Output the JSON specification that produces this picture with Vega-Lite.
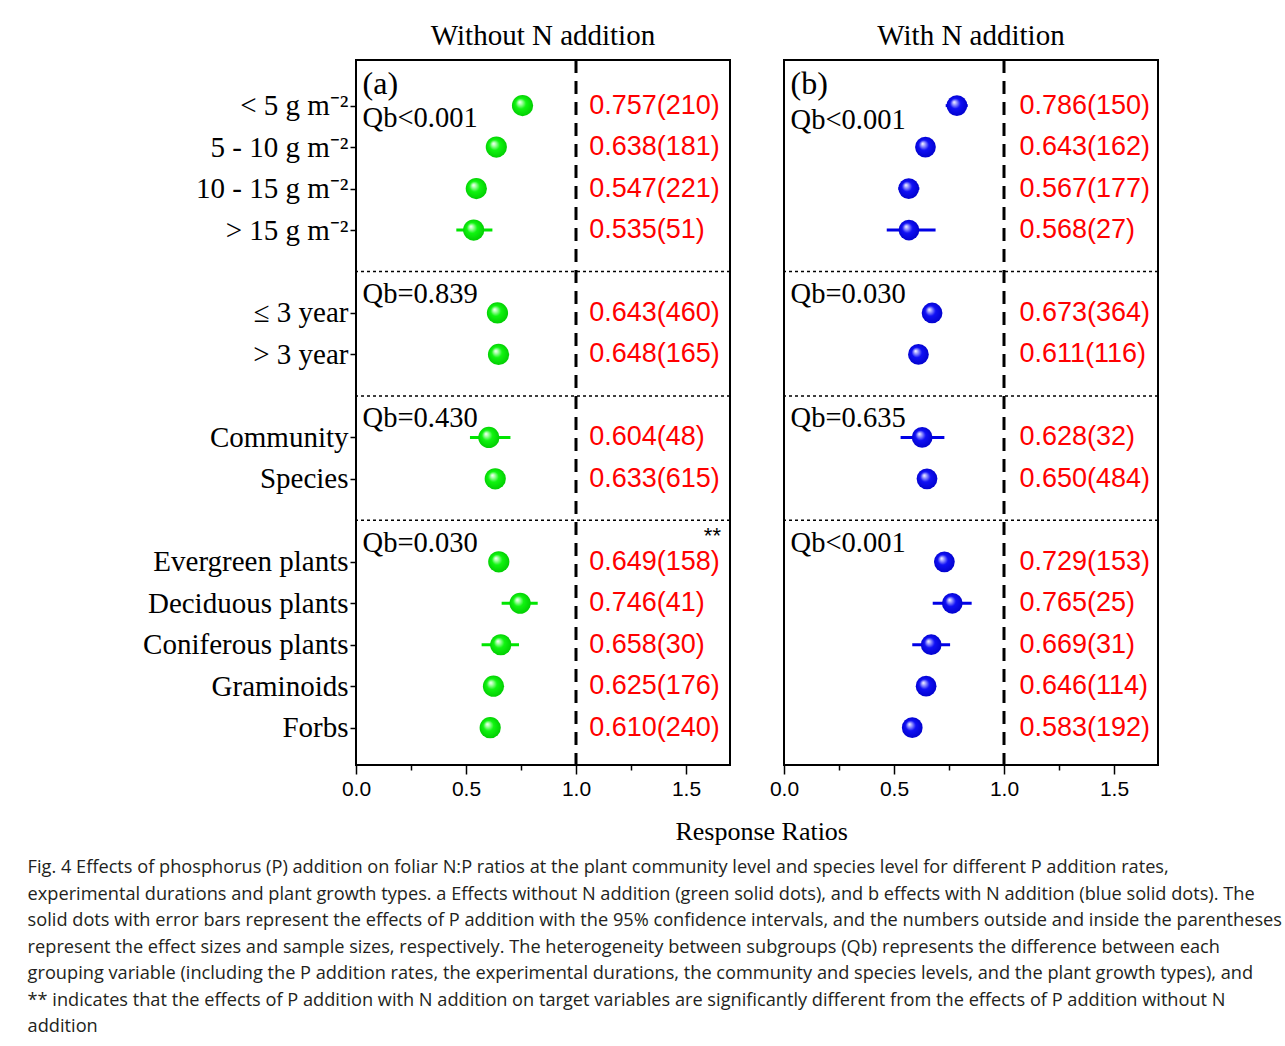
{
  "$schema": "https://vega.github.io/schema/vega-lite/v6.json",
  "padding": {"left": 27, "top": 20, "right": 5, "bottom": 5},
  "background": "white",
  "config": {
    "view": {"stroke": "black", "strokeWidth": 2},
    "axis": {"grid": false, "domain": false, "tickColor": "black", "labelColor": "black"}
  },
  "datasets": {
    "rows": [
      {"panel": "a", "grp": 1, "cat": "< 5 g m⁻²", "rr": 0.757, "lo": 0.715, "hi": 0.8, "label": "0.757(210)", "qb": "Qb<0.001"},
      {"panel": "a", "grp": 1, "cat": "5 - 10 g m⁻²", "rr": 0.638, "lo": 0.6, "hi": 0.675, "label": "0.638(181)"},
      {"panel": "a", "grp": 1, "cat": "10 - 15 g m⁻²", "rr": 0.547, "lo": 0.51, "hi": 0.585, "label": "0.547(221)"},
      {"panel": "a", "grp": 1, "cat": "> 15 g m⁻²", "rr": 0.535, "lo": 0.456, "hi": 0.62, "label": "0.535(51)"},
      {"panel": "a", "grp": 2, "cat": "≤ 3 year", "rr": 0.643, "lo": 0.61, "hi": 0.675, "label": "0.643(460)", "qb": "Qb=0.839"},
      {"panel": "a", "grp": 2, "cat": "> 3 year", "rr": 0.648, "lo": 0.615, "hi": 0.68, "label": "0.648(165)"},
      {"panel": "a", "grp": 3, "cat": "Community", "rr": 0.604, "lo": 0.518, "hi": 0.702, "label": "0.604(48)", "qb": "Qb=0.430"},
      {"panel": "a", "grp": 3, "cat": "Species", "rr": 0.633, "lo": 0.6, "hi": 0.665, "label": "0.633(615)"},
      {"panel": "a", "grp": 4, "cat": "Evergreen plants", "rr": 0.649, "lo": 0.615, "hi": 0.68, "label": "0.649(158)", "qb": "Qb=0.030", "sig": "**"},
      {"panel": "a", "grp": 4, "cat": "Deciduous plants", "rr": 0.746, "lo": 0.662, "hi": 0.826, "label": "0.746(41)"},
      {"panel": "a", "grp": 4, "cat": "Coniferous plants", "rr": 0.658, "lo": 0.571, "hi": 0.741, "label": "0.658(30)"},
      {"panel": "a", "grp": 4, "cat": "Graminoids", "rr": 0.625, "lo": 0.59, "hi": 0.66, "label": "0.625(176)"},
      {"panel": "a", "grp": 4, "cat": "Forbs", "rr": 0.61, "lo": 0.575, "hi": 0.645, "label": "0.610(240)"},
      {"panel": "b", "grp": 1, "cat": "< 5 g m⁻²", "rr": 0.786, "lo": 0.735, "hi": 0.835, "label": "0.786(150)", "qb": "Qb<0.001"},
      {"panel": "b", "grp": 1, "cat": "5 - 10 g m⁻²", "rr": 0.643, "lo": 0.6, "hi": 0.685, "label": "0.643(162)"},
      {"panel": "b", "grp": 1, "cat": "10 - 15 g m⁻²", "rr": 0.567, "lo": 0.52, "hi": 0.615, "label": "0.567(177)"},
      {"panel": "b", "grp": 1, "cat": "> 15 g m⁻²", "rr": 0.568, "lo": 0.467, "hi": 0.689, "label": "0.568(27)"},
      {"panel": "b", "grp": 2, "cat": "≤ 3 year", "rr": 0.673, "lo": 0.63, "hi": 0.715, "label": "0.673(364)", "qb": "Qb=0.030"},
      {"panel": "b", "grp": 2, "cat": "> 3 year", "rr": 0.611, "lo": 0.57, "hi": 0.65, "label": "0.611(116)"},
      {"panel": "b", "grp": 3, "cat": "Community", "rr": 0.628, "lo": 0.53, "hi": 0.729, "label": "0.628(32)", "qb": "Qb=0.635"},
      {"panel": "b", "grp": 3, "cat": "Species", "rr": 0.65, "lo": 0.61, "hi": 0.69, "label": "0.650(484)"},
      {"panel": "b", "grp": 4, "cat": "Evergreen plants", "rr": 0.729, "lo": 0.685, "hi": 0.77, "label": "0.729(153)", "qb": "Qb<0.001"},
      {"panel": "b", "grp": 4, "cat": "Deciduous plants", "rr": 0.765, "lo": 0.676, "hi": 0.853, "label": "0.765(25)"},
      {"panel": "b", "grp": 4, "cat": "Coniferous plants", "rr": 0.669, "lo": 0.583, "hi": 0.755, "label": "0.669(31)"},
      {"panel": "b", "grp": 4, "cat": "Graminoids", "rr": 0.646, "lo": 0.6, "hi": 0.69, "label": "0.646(114)"},
      {"panel": "b", "grp": 4, "cat": "Forbs", "rr": 0.583, "lo": 0.54, "hi": 0.625, "label": "0.583(192)"}
    ],
    "seps": [{"cat": "sep1"}, {"cat": "sep2"}, {"cat": "sep3"}],
    "ref": [{"rr": 1}],
    "tags": [{"panel": "a", "tag": "(a)", "cat": "< 5 g m⁻²"}, {"panel": "b", "tag": "(b)", "cat": "< 5 g m⁻²"}]
  },
  "title": {
    "text": [
      "Fig. 4  Effects of phosphorus (P) addition on foliar N:P ratios at the plant community level and species level for different P addition rates,",
      "experimental durations and plant growth types. a Effects without N addition (green solid dots), and b effects with N addition (blue solid dots). The",
      "solid dots with error bars represent the effects of P addition with the 95% confidence intervals, and the numbers outside and inside the parentheses",
      "represent the effect sizes and sample sizes, respectively. The heterogeneity between subgroups (Qb) represents the difference between each",
      "grouping variable (including the P addition rates, the experimental durations, the community and species levels, and the plant growth types), and",
      "** indicates that the effects of P addition with N addition on target variables are significantly different from the effects of P addition without N",
      "addition"
    ],
    "orient": "bottom", "anchor": "start", "font": "Open Sans", "fontSize": 18.2, "fontWeight": "normal", "color": "#231f20", "lineHeight": 26.5, "offset": 14, "dx": -114
  },
  "vconcat": [
    {
      "title": {"text": "Response Ratios", "orient": "bottom", "anchor": "middle", "font": "Liberation Serif", "fontSize": 26, "fontWeight": "normal", "color": "black", "offset": 19, "dx": 111},
      "spacing": 36,
      "hconcat": [
        {
          "width": 374, "height": 705,
          "title": {"text": "Without N addition", "font": "Liberation Serif", "fontSize": 29, "fontWeight": "normal", "color": "black", "offset": 8},
          "layer": [
            {
              "data": {"name": "seps"},
              "mark": {"type": "rule", "strokeDash": [3, 3], "strokeWidth": 1.5, "color": "black"},
              "encoding": {
                "y": {"field": "cat", "type": "nominal", "sort": null, "scale": {"type": "point", "padding": 1, "align": 0.55, "domain": ["< 5 g m⁻²", "5 - 10 g m⁻²", "10 - 15 g m⁻²", "> 15 g m⁻²", "sep1", "≤ 3 year", "> 3 year", "sep2", "Community", "Species", "sep3", "Evergreen plants", "Deciduous plants", "Coniferous plants", "Graminoids", "Forbs"]}, "axis": {"values": ["< 5 g m⁻²", "5 - 10 g m⁻²", "10 - 15 g m⁻²", "> 15 g m⁻²", "≤ 3 year", "> 3 year", "Community", "Species", "Evergreen plants", "Deciduous plants", "Coniferous plants", "Graminoids", "Forbs"], "title": null, "labelFont": "Liberation Serif", "labelFontSize": 29, "labelColor": "black", "tickSize": 6, "tickWidth": 1.5, "labelPadding": 2, "labelLimit": 400}}
              }
            },
            {
              "data": {"name": "ref"},
              "mark": {"type": "rule", "strokeDash": [13, 8], "strokeWidth": 3, "color": "black"},
              "encoding": {
                "x": {"field": "rr", "type": "quantitative", "scale": {"domain": [0, 1.7], "nice": false, "zero": false}, "axis": {"values": [0, 0.25, 0.5, 0.75, 1, 1.25, 1.5], "labelExpr": "datum.value % 0.5 === 0 ? format(datum.value, '.1f') : ''", "title": null, "labelFont": "Liberation Sans", "labelFontSize": 21, "labelColor": "black", "tickSize": {"condition": {"test": "datum.value % 0.5 === 0", "value": 9}, "value": 5}, "tickWidth": 1.5, "labelPadding": 4, "labelFlush": false}}
              }
            },
            {
              "data": {"name": "rows"},
              "transform": [{"filter": "datum.panel === 'a'"}],
              "layer": [
                {
                  "mark": {"type": "rule", "strokeWidth": 3, "color": "#00e600"},
                  "encoding": {
                    "y": {"field": "cat", "type": "nominal", "sort": null},
                    "x": {"field": "lo", "type": "quantitative"},
                    "x2": {"field": "hi"}
                  }
                },
                {
                  "mark": {"type": "point", "filled": true, "size": 450, "opacity": 1, "strokeWidth": 0, "fill": {"gradient": "radial", "x1": 0.36, "y1": 0.33, "r1": 0, "x2": 0.5, "y2": 0.5, "r2": 0.55, "stops": [{"offset": 0, "color": "#ffffff"}, {"offset": 0.16, "color": "#b0ffb0"}, {"offset": 0.45, "color": "#10f510"}, {"offset": 1, "color": "#00c800"}]}},
                  "encoding": {
                    "y": {"field": "cat", "type": "nominal", "sort": null},
                    "x": {"field": "rr", "type": "quantitative"}
                  }
                },
                {
                  "mark": {"type": "text", "align": "left", "baseline": "middle", "font": "Liberation Sans", "fontSize": 27, "color": "#ff0000"},
                  "encoding": {
                    "y": {"field": "cat", "type": "nominal", "sort": null},
                    "x": {"datum": 1.06, "type": "quantitative"},
                    "text": {"field": "label"}
                  }
                },
                {
                  "transform": [{"filter": "datum.qb && datum.grp === 1"}],
                  "mark": {"type": "text", "align": "left", "baseline": "middle", "font": "Liberation Serif", "fontSize": 28.5, "color": "black", "dy": 12},
                  "encoding": {
                    "y": {"field": "cat", "type": "nominal", "sort": null},
                    "x": {"datum": 0.03, "type": "quantitative"},
                    "text": {"field": "qb"}
                  }
                },
                {
                  "transform": [{"filter": "datum.qb && datum.grp > 1"}],
                  "mark": {"type": "text", "align": "left", "baseline": "middle", "font": "Liberation Serif", "fontSize": 28.5, "color": "black", "dy": -19},
                  "encoding": {
                    "y": {"field": "cat", "type": "nominal", "sort": null},
                    "x": {"datum": 0.03, "type": "quantitative"},
                    "text": {"field": "qb"}
                  }
                },
                {
                  "transform": [{"filter": "datum.sig"}],
                  "mark": {"type": "text", "align": "center", "baseline": "middle", "font": "Liberation Sans", "fontSize": 22, "color": "black", "dy": -26},
                  "encoding": {
                    "y": {"field": "cat", "type": "nominal", "sort": null},
                    "x": {"datum": 1.62, "type": "quantitative"},
                    "text": {"field": "sig"}
                  }
                }
              ]
            },
            {
              "data": {"name": "tags"},
              "transform": [{"filter": "datum.panel === 'a'"}],
              "mark": {"type": "text", "align": "left", "baseline": "middle", "font": "Liberation Serif", "fontSize": 32, "color": "black", "dy": -22},
              "encoding": {
                "y": {"field": "cat", "type": "nominal", "sort": null},
                "x": {"datum": 0.03, "type": "quantitative"},
                "text": {"field": "tag"}
              }
            }
          ]
        },
        {
          "width": 374, "height": 705,
          "title": {"text": "With N addition", "font": "Liberation Serif", "fontSize": 29, "fontWeight": "normal", "color": "black", "offset": 8},
          "layer": [
            {
              "data": {"name": "seps"},
              "mark": {"type": "rule", "strokeDash": [3, 3], "strokeWidth": 1.5, "color": "black"},
              "encoding": {
                "y": {"field": "cat", "type": "nominal", "sort": null, "scale": {"type": "point", "padding": 1, "align": 0.55, "domain": ["< 5 g m⁻²", "5 - 10 g m⁻²", "10 - 15 g m⁻²", "> 15 g m⁻²", "sep1", "≤ 3 year", "> 3 year", "sep2", "Community", "Species", "sep3", "Evergreen plants", "Deciduous plants", "Coniferous plants", "Graminoids", "Forbs"]}, "axis": null}
              }
            },
            {
              "data": {"name": "ref"},
              "mark": {"type": "rule", "strokeDash": [13, 8], "strokeWidth": 3, "color": "black"},
              "encoding": {
                "x": {"field": "rr", "type": "quantitative", "scale": {"domain": [0, 1.7], "nice": false, "zero": false}, "axis": {"values": [0, 0.25, 0.5, 0.75, 1, 1.25, 1.5], "labelExpr": "datum.value % 0.5 === 0 ? format(datum.value, '.1f') : ''", "title": null, "labelFont": "Liberation Sans", "labelFontSize": 21, "labelColor": "black", "tickSize": {"condition": {"test": "datum.value % 0.5 === 0", "value": 9}, "value": 5}, "tickWidth": 1.5, "labelPadding": 4, "labelFlush": false}}
              }
            },
            {
              "data": {"name": "rows"},
              "transform": [{"filter": "datum.panel === 'b'"}],
              "layer": [
                {
                  "mark": {"type": "rule", "strokeWidth": 3, "color": "#0000e6"},
                  "encoding": {
                    "y": {"field": "cat", "type": "nominal", "sort": null},
                    "x": {"field": "lo", "type": "quantitative"},
                    "x2": {"field": "hi"}
                  }
                },
                {
                  "mark": {"type": "point", "filled": true, "size": 430, "opacity": 1, "strokeWidth": 0, "fill": {"gradient": "radial", "x1": 0.36, "y1": 0.33, "r1": 0, "x2": 0.5, "y2": 0.5, "r2": 0.55, "stops": [{"offset": 0, "color": "#ffffff"}, {"offset": 0.16, "color": "#a8a8ff"}, {"offset": 0.45, "color": "#1010f5"}, {"offset": 1, "color": "#0000c8"}]}},
                  "encoding": {
                    "y": {"field": "cat", "type": "nominal", "sort": null},
                    "x": {"field": "rr", "type": "quantitative"}
                  }
                },
                {
                  "mark": {"type": "text", "align": "left", "baseline": "middle", "font": "Liberation Sans", "fontSize": 27, "color": "#ff0000"},
                  "encoding": {
                    "y": {"field": "cat", "type": "nominal", "sort": null},
                    "x": {"datum": 1.07, "type": "quantitative"},
                    "text": {"field": "label"}
                  }
                },
                {
                  "transform": [{"filter": "datum.qb && datum.grp === 1"}],
                  "mark": {"type": "text", "align": "left", "baseline": "middle", "font": "Liberation Serif", "fontSize": 28.5, "color": "black", "dy": 14},
                  "encoding": {
                    "y": {"field": "cat", "type": "nominal", "sort": null},
                    "x": {"datum": 0.03, "type": "quantitative"},
                    "text": {"field": "qb"}
                  }
                },
                {
                  "transform": [{"filter": "datum.qb && datum.grp > 1"}],
                  "mark": {"type": "text", "align": "left", "baseline": "middle", "font": "Liberation Serif", "fontSize": 28.5, "color": "black", "dy": -19},
                  "encoding": {
                    "y": {"field": "cat", "type": "nominal", "sort": null},
                    "x": {"datum": 0.03, "type": "quantitative"},
                    "text": {"field": "qb"}
                  }
                }
              ]
            },
            {
              "data": {"name": "tags"},
              "transform": [{"filter": "datum.panel === 'b'"}],
              "mark": {"type": "text", "align": "left", "baseline": "middle", "font": "Liberation Serif", "fontSize": 32, "color": "black", "dy": -22},
              "encoding": {
                "y": {"field": "cat", "type": "nominal", "sort": null},
                "x": {"datum": 0.03, "type": "quantitative"},
                "text": {"field": "tag"}
              }
            }
          ]
        }
      ]
    }
  ]
}
